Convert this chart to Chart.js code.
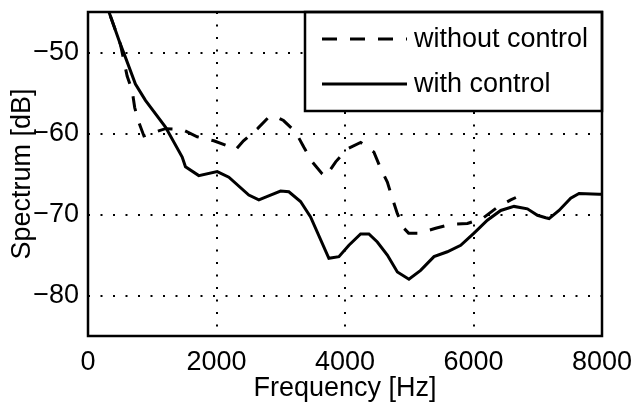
<!DOCTYPE html>
<html>
<head>
<meta charset="utf-8">
<script src="https://cdn.jsdelivr.net/npm/chart.js@4/dist/chart.umd.min.js"></script>
<style>
  html, body { margin: 0; padding: 0; background: #fff; }
  #wrap { width: 633px; height: 403px; }
</style>
</head>
<body>
<div id="wrap"><canvas id="chart" width="633" height="403"></canvas></div>
<script>
const $ = (id) => document.getElementById(id);

// values
const freqWithout = [200, 322, 505, 609, 687, 727, 790, 870, 972, 1206, 1466, 1700, 1958, 2192, 2300, 2420, 2639, 2811, 2920, 3043, 3230, 3360, 3490, 3646, 3700, 3855, 4036, 4243, 4450, 4554, 4659, 4737, 4815, 4917, 4990, 5151, 5411, 5645, 5905, 6138, 6372, 6579, 6660];
const dbWithout = [-42.2, -44.9, -49.0, -52.9, -54.7, -56.8, -58.6, -60.3, -60.0, -59.4, -59.5, -60.4, -60.9, -61.6, -62.0, -60.9, -59.4, -58.0, -57.9, -58.4, -59.8, -61.7, -63.5, -65.0, -65.3, -63.5, -61.9, -61.1, -62.3, -64.3, -66.0, -68.0, -69.9, -71.7, -72.3, -72.3, -71.7, -71.2, -71.1, -70.5, -69.1, -68.2, -67.9];

const freqWith = [200, 322, 505, 583, 738, 894, 1206, 1466, 1517, 1724, 2011, 2192, 2503, 2659, 2841, 2997, 3126, 3308, 3464, 3749, 3905, 4061, 4243, 4372, 4503, 4659, 4815, 4995, 5177, 5385, 5593, 5801, 6008, 6216, 6424, 6631, 6839, 6995, 7124, 7176, 7331, 7513, 7643, 7955, 8000];
const dbWith = [-42.2, -44.9, -49.0, -50.6, -53.9, -55.9, -59.2, -62.9, -64.1, -65.2, -64.7, -65.4, -67.6, -68.2, -67.6, -67.1, -67.2, -68.4, -70.3, -75.4, -75.2, -73.8, -72.4, -72.4, -73.4, -75.0, -77.1, -78.0, -76.9, -75.2, -74.6, -73.8, -72.3, -70.7, -69.5, -69.0, -69.3, -70.1, -70.4, -70.5, -69.5, -68.0, -67.4, -67.5, -67.5];

const xTicks = [0, 2000, 4000, 6000, 8000];
const yTicks = [-80, -70, -60, -50];
const seriesNames = ["without control", "with control"];

const FONT = "'Liberation Sans', Arial, Helvetica, sans-serif";
const FSIZE = 27;
const toPts = (xs, ys) => xs.map((x, i) => ({ x, y: ys[i] }));

// box round the axes + legend inside the top right corner
const boxPlugin = {
  id: "box",
  afterDraw(chart) {
    const { ctx, chartArea: a } = chart;
    ctx.save();

    const lx = 305, ly = a.top, lw = a.right - 305, lh = 99;
    ctx.fillStyle = "#fff";
    ctx.fillRect(lx, ly, lw, lh);
    ctx.strokeStyle = "#000";
    ctx.lineWidth = 2.5;
    ctx.strokeRect(lx, ly, lw, lh);

    ctx.font = `${FSIZE}px ${FONT}`;
    ctx.textBaseline = "middle";
    ctx.fillStyle = "#000";
    chart.data.datasets.forEach((ds, i) => {
      const y = ly + 27 + i * 45;
      ctx.beginPath();
      ctx.lineWidth = ds.borderWidth;
      ctx.setLineDash(ds.borderDash || []);
      ctx.moveTo(322, y);
      ctx.lineTo(407, y);
      ctx.stroke();
      ctx.setLineDash([]);
      ctx.fillText(ds.label, 414, y + 1);
    });

    ctx.lineWidth = 2.5;
    ctx.strokeRect(a.left, a.top, a.right - a.left, a.bottom - a.top);
    ctx.restore();
  }
};

const gridOpts = { color: "#000", lineWidth: 2, drawTicks: false, borderDash: [2, 10.5] };
const borderOpts = { display: false, dash: [2, 10.5] };

new Chart($("chart").getContext("2d"), {
  type: "line",
  data: {
    datasets: [
      {
        label: seriesNames[0],
        data: toPts(freqWithout, dbWithout),
        borderColor: "#000",
        borderWidth: 3,
        borderDash: [15, 13],
        pointRadius: 0,
        tension: 0,
        fill: false,
      },
      {
        label: seriesNames[1],
        data: toPts(freqWith, dbWith),
        borderColor: "#000",
        borderWidth: 3,
        pointRadius: 0,
        tension: 0,
        fill: false,
      }
    ]
  },
  options: {
    responsive: false,
    animation: false,
    devicePixelRatio: 1,
    layout: { padding: { left: 0, top: 12, right: 31, bottom: 0 } },
    plugins: { legend: { display: false }, tooltip: { enabled: false } },
    scales: {
      x: {
        type: "linear",
        min: 0,
        max: 8000,
        afterBuildTicks: (s) => { s.ticks = xTicks.map(v => ({ value: v })); },
        afterFit: (s) => { s.height = 67; s.paddingLeft = 0; s.paddingRight = 0; },
        ticks: { color: "#000", padding: 10, maxRotation: 0, font: { family: FONT, size: FSIZE }, callback: (v) => String(v) },
        grid: gridOpts,
        border: borderOpts,
        title: {
          display: true,
          text: "Frequency [Hz]",
          color: "#000",
          font: { family: FONT, size: FSIZE },
          padding: { top: 0, bottom: -2 }
        }
      },
      y: {
        min: -85,
        max: -45,
        afterBuildTicks: (s) => { s.ticks = yTicks.map(v => ({ value: v })); },
        afterFit: (s) => { s.width = 88; s.paddingTop = 0; s.paddingBottom = 0; },
        ticks: {
          color: "#000",
          padding: 9,
          font: { family: FONT, size: FSIZE },
          callback: (v) => String(v).replace("-", "\u2212")
        },
        grid: gridOpts,
        border: borderOpts,
        title: {
          display: true,
          text: "Spectrum [dB]",
          color: "#000",
          font: { family: FONT, size: FSIZE },
          padding: { top: 6, bottom: 0 }
        }
      }
    }
  },
  plugins: [boxPlugin]
});
</script>
</body>
</html>
